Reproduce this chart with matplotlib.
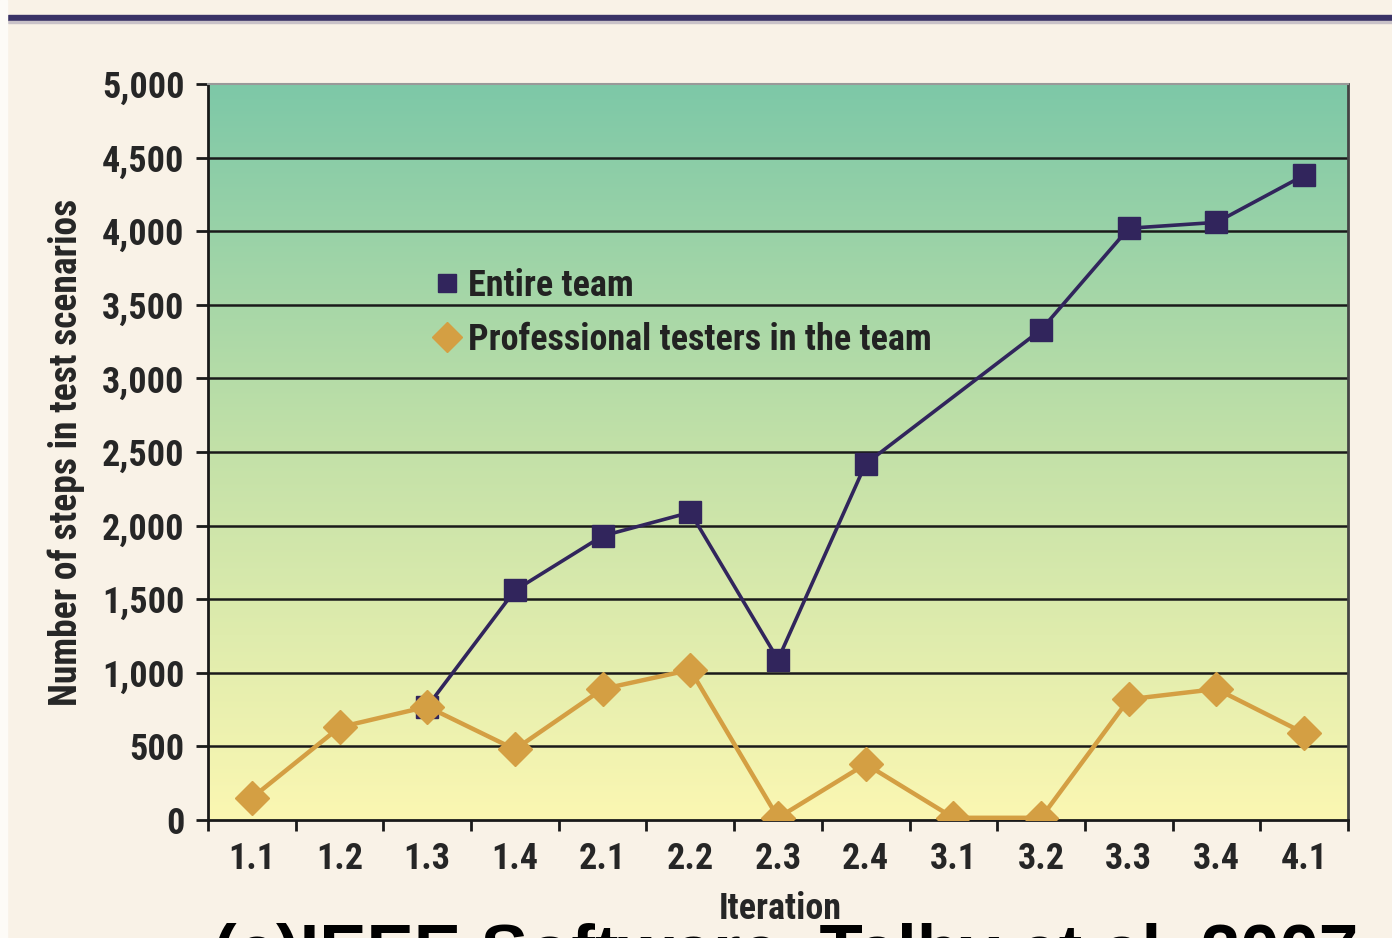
import numpy as np
import matplotlib
matplotlib.use("Agg")
import matplotlib.pyplot as plt
from matplotlib.colors import LinearSegmentedColormap
from matplotlib.patches import Rectangle
from matplotlib.lines import Line2D
from matplotlib.ticker import FuncFormatter, MultipleLocator
from matplotlib import font_manager

# data
iterations = ["1.1", "1.2", "1.3", "1.4", "2.1", "2.2", "2.3",
              "2.4", "3.1", "3.2", "3.3", "3.4", "4.1"]
entire_team = [None, None, 770, 1560, 1930, 2090, 1090,
               2420, None, 3330, 4020, 4060, 4380]
pro_testers = [150, 630, 770, 480, 890, 1020, 15,
               380, 15, 15, 820, 890, 590]
series_labels = ["Entire team", "Professional testers in the team"]

# pick a condensed bold face
names = {f.name for f in font_manager.fontManager.ttflist}
narrow = "DejaVu Sans"
for cand in ["Roboto Condensed", "Archivo Narrow", "PT Sans Narrow", "Fira Sans Condensed",
             "Barlow Condensed", "IBM Plex Sans Condensed", "Open Sans Condensed"]:
    if cand in names:
        narrow = cand
        break

bg = "#f9f2e7"
navy = "#31255c"
gold = "#d49f43"
txt = "#262626"

fig = plt.figure(figsize=(13.92, 9.38), dpi=100, facecolor=bg)
ax = fig.add_axes([208/1392, 118/938, 1140/1392, 736/938])
ax.set_facecolor(bg)

x = np.arange(len(iterations))

# gradient background of the plot area
cmap = LinearSegmentedColormap.from_list(
    "bg", [(0, "#fbf7b2"), (0.5, "#c3e1a8"), (1, "#7dc8a7")])
grad = np.linspace(0, 1, 256).reshape(-1, 1)
ax.imshow(grad, extent=[-0.5, 12.5, 0, 5000], origin="lower", aspect="auto",
          cmap=cmap, zorder=0, interpolation="bilinear")

for y in range(500, 5000, 500):
    ax.axhline(y, color="#1a1a1a", lw=1.8, zorder=1)

# entire team: skip missing points, keep line connected
ex = [i for i, v in enumerate(entire_team) if v is not None]
ey = [v for v in entire_team if v is not None]
ax.plot(ex, ey, color=navy, lw=2.6, marker="s", ms=16, mec=navy, mfc=navy, zorder=3)
ax.plot(x, pro_testers, color=gold, lw=3.2, marker="D", ms=17, mec=gold, mfc=gold, zorder=4)

ax.set_xlim(-0.5, 12.5)
ax.set_ylim(0, 5000)

ax.yaxis.set_major_locator(MultipleLocator(500))
ax.yaxis.set_major_formatter(FuncFormatter(lambda v, p: f"{int(v):,}"))
ax.set_xticks(x)
ax.set_xticklabels(iterations)
ax.set_xticks(np.arange(-0.5, 13, 1), minor=True)
ax.tick_params(axis="x", which="major", length=0, pad=15)
ax.tick_params(axis="x", which="minor", length=8, width=2, color="#1a1a1a", direction="out")
ax.tick_params(axis="y", length=9, width=2, color="#1a1a1a", pad=8)

for lab in ax.get_xticklabels() + ax.get_yticklabels():
    lab.set_fontfamily(narrow)
    lab.set_fontweight("bold")
    lab.set_fontsize(26)
    lab.set_color(txt)

for s in ["left", "bottom"]:
    ax.spines[s].set_color("#1a1a1a")
    ax.spines[s].set_linewidth(2)
ax.spines["right"].set_color("#444444")
ax.spines["right"].set_linewidth(2)
ax.spines["top"].set_color("#999999")
ax.spines["top"].set_linewidth(1.5)

ax.set_ylabel("Number of steps in test scenarios", fontfamily=narrow,
              fontweight="bold", fontsize=27, color=txt)
ax.yaxis.set_label_coords(-0.108, 0.5)
ax.set_xlabel("Iteration", fontfamily=narrow, fontweight="bold",
              fontsize=26, color=txt)
ax.xaxis.set_label_coords(0.502, -0.097)

h1 = Line2D([], [], ls="none", marker="s", ms=13, color=navy)
h2 = Line2D([], [], ls="none", marker="D", ms=15, color=gold)
leg = ax.legend([h1, h2], series_labels, loc="upper left", bbox_to_anchor=(0.2, 0.75),
                frameon=False, handlelength=0.6, handletextpad=0.3,
                labelspacing=0.5, borderpad=0, borderaxespad=0,
                prop={"family": narrow, "weight": "bold", "size": 26})
for t in leg.get_texts():
    t.set_color("#222222")
leg.set_zorder(5)

# top bar and left strip of the slide
fig.add_artist(Rectangle((8/1392, (938-21)/938), 1, 6/938, transform=fig.transFigure,
                         color="#3a3366", zorder=10))
fig.add_artist(Rectangle((8/1392, (938-23)/938), 1, 2/938, transform=fig.transFigure,
                         color="#c9c2c8", zorder=10))
fig.add_artist(Rectangle((0, 0), 7/1392, 1, transform=fig.transFigure,
                         color="#fdfbf7", zorder=10))

# caption cut off at the bottom of the slide
fig.text(213/1392, (938-923)/938, "(c)IEEE Software, Talby et al. 2007",
         fontfamily="Liberation Sans", fontweight="bold", fontsize=51,
         va="top", ha="left", color="black", zorder=1)

fig.savefig("out.png", dpi=100, facecolor=bg)
